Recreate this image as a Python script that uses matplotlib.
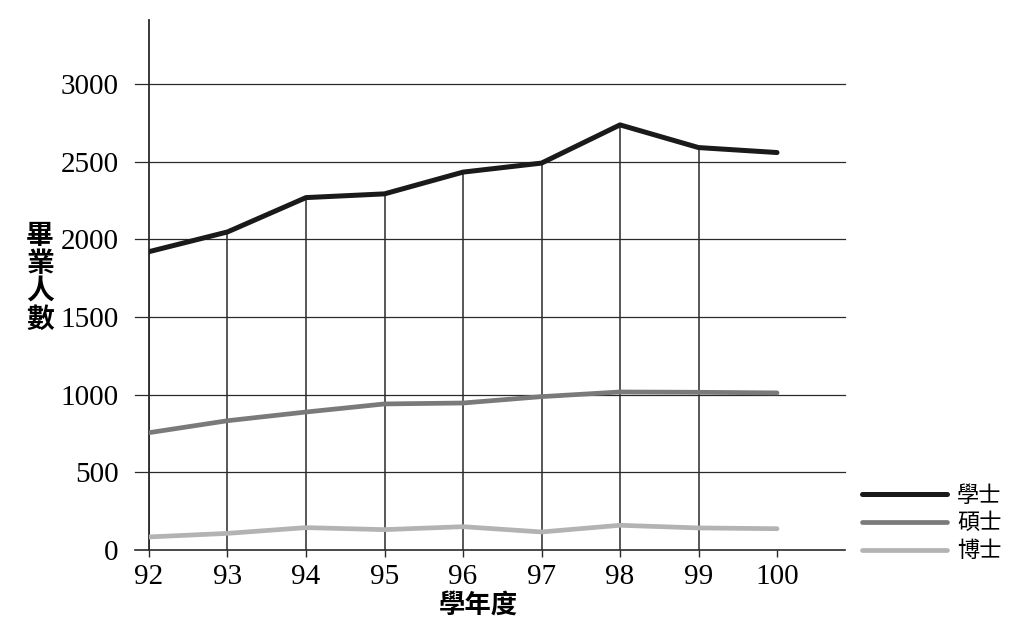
import matplotlib.pyplot as plt

# datos
anos = ['92', '93', '94', '95', '96', '97', '98', '99', '100']
xueshi = [1920, 2047, 2268, 2292, 2432, 2490, 2736, 2590, 2558]
shuoshi = [755, 832, 888, 940, 946, 987, 1017, 1015, 1011]
boshi = [84, 107, 144, 131, 150, 116, 159, 142, 137]
series_nombres = ['學士', '碩士', '博士']

cjk = ['Noto Sans CJK TC', 'DejaVu Sans']
serif = 'Liberation Serif'

fig = plt.figure(figsize=(10.24, 6.3), dpi=100)
ax = fig.add_axes([0.1455, 0.127, 0.68, 0.841])

x = list(range(len(anos)))

# lineas horizontales de la cuadricula
for v in [500, 1000, 1500, 2000, 2500, 3000]:
    ax.axhline(v, xmin=-0.02, xmax=1, color='#2a2a2a', lw=0.9, zorder=1, clip_on=False)
ax.axhline(0, xmin=-0.02, xmax=1, color='#2a2a2a', lw=1.2, zorder=1, clip_on=False)

# lineas verticales hasta la serie de 學士
ax.vlines(x[:-1], 0, xueshi[:-1], colors='#2a2a2a', lw=1.1, zorder=1)

ax.plot(x, boshi, color='#b3b3b3', lw=3.4, solid_capstyle='round', zorder=3, label=series_nombres[2])
ax.plot(x, shuoshi, color='#7a7a7a', lw=3.4, solid_capstyle='round', zorder=3, label=series_nombres[1])
ax.plot(x, xueshi, color='#1a1a1a', lw=3.6, solid_capstyle='round', zorder=4, label=series_nombres[0])

ax.set_xlim(0, 8.87)
ax.set_ylim(0, 3410)
ax.set_xticks(x)
ax.set_xticklabels(anos, fontfamily=serif, fontsize=21)
ax.set_yticks([0, 500, 1000, 1500, 2000, 2500, 3000])
ax.set_yticklabels(['0', '500', '1000', '1500', '2000', '2500', '3000'], fontfamily=serif, fontsize=21)
ax.tick_params(axis='y', length=0, pad=22)
ax.tick_params(axis='x', length=5, width=1, color='#2a2a2a', pad=5)

for s in ['top', 'right', 'bottom']:
    ax.spines[s].set_visible(False)
ax.spines['left'].set_color('#2a2a2a')
ax.spines['left'].set_linewidth(1.3)

# titulos de los ejes
fig.text(0.467, 0.04, '學年度', family=cjk, fontsize=19, fontweight='bold', ha='center', va='center')
fig.text(0.039, 0.559, '畢\n業\n人\n數', family=cjk, fontsize=20, fontweight='bold',
         ha='center', va='center', linespacing=1.0)

# leyenda
handles, labels = ax.get_legend_handles_labels()
leg = fig.legend(handles[::-1], labels[::-1], loc='center left', bbox_to_anchor=(0.822, 0.17),
                 frameon=False, handlelength=3.85, handletextpad=0.45, labelspacing=0.22,
                 prop={'family': cjk, 'size': 16})

plt.savefig('out.png', dpi=100)
